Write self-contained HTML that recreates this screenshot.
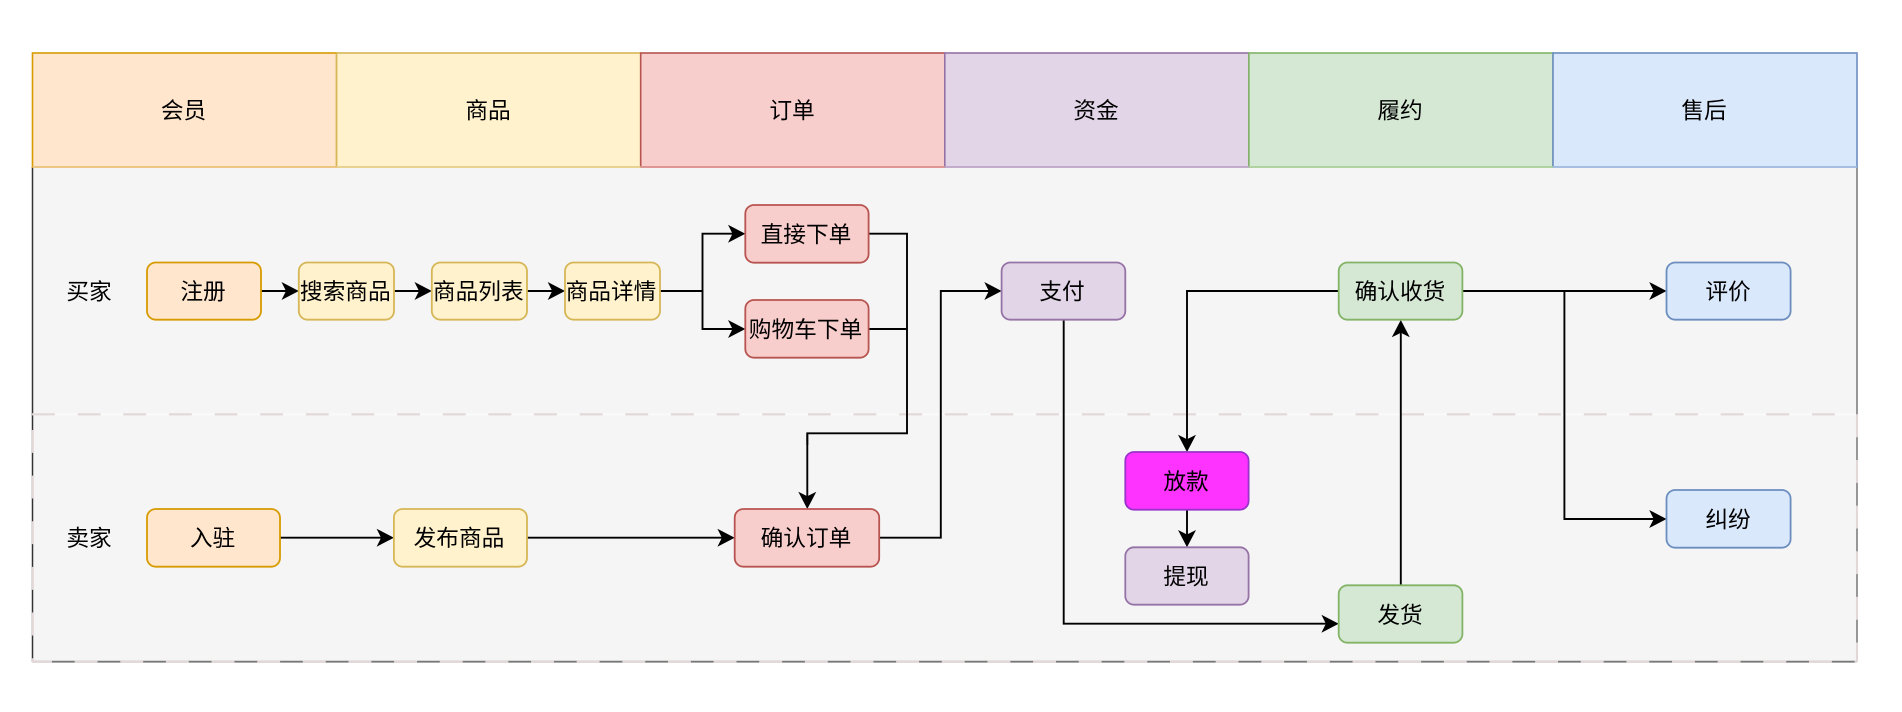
<!DOCTYPE html>
<html><head><meta charset="utf-8"><style>
html,body{margin:0;padding:0;background:#fff;width:1902px;height:712px;overflow:hidden}
svg{display:block}
text{font-family:"Liberation Sans","Noto Sans CJK SC",sans-serif;font-size:22.7px;fill:#000;text-anchor:middle}
.l{fill:none;stroke:#000;stroke-width:1.9}
.a{marker-end:url(#h)}
.d{fill:none;stroke:#e3d8d8;stroke-width:2.1;stroke-dasharray:22.9 22.74}
</style></head><body>
<svg width="1902" height="712" viewBox="0 0 1902 712" xmlns="http://www.w3.org/2000/svg">
<defs><marker id="h" markerUnits="userSpaceOnUse" markerWidth="20" markerHeight="20" refX="13" refY="9" orient="auto" overflow="visible"><path d="M17.3,9 L0,0 L4.5,9 L0,18 Z" fill="#000"/></marker></defs>
<rect width="1902" height="712" fill="#fff"/>
<rect x="32.5" y="167" width="1824.5" height="494.7" fill="#f5f5f5"/>
<path d="M32.5,167V661.7" stroke="#333" stroke-width="1.5" fill="none"/>
<path d="M1857,167V661.7" stroke="#777" stroke-width="1.5" fill="none"/>
<path d="M32.5,661.7H1857" stroke="#777" stroke-width="1.8" fill="none"/>
<path d="M33,414.3H1856" stroke="#fafafa" stroke-width="2.2" fill="none"/>
<path class="d" d="M32,414.3H1857"/>
<path class="d" d="M32.8,430V661.7"/>
<path class="d" stroke-dashoffset="3" style="stroke-dashoffset:3" d="M32,661.7H1857"/>
<path class="d" d="M1857,414.3V661.7"/>

<g stroke-width="1.6">
<rect x="32.5" y="53" width="304.1" height="114" fill="#ffe6cc" stroke="#d79b00"/>
<rect x="336.6" y="53" width="304.1" height="114" fill="#fff2cc" stroke="#d6b656"/>
<rect x="640.7" y="53" width="304.1" height="114" fill="#f8cecc" stroke="#b85450"/>
<rect x="944.8" y="53" width="304.1" height="114" fill="#e1d5e7" stroke="#9673a6"/>
<rect x="1248.9" y="53" width="304.1" height="114" fill="#d5e8d4" stroke="#82b366"/>
<rect x="1553" y="53" width="304" height="114" fill="#dae8fc" stroke="#6c8ebf"/>
</g>
<path d="M32.5,167H336.6" stroke="#efc98f" stroke-width="1.6"/>
<path d="M336.6,167H640.7" stroke="#ead494" stroke-width="1.6"/>
<path d="M640.7,167H944.8" stroke="#e19a97" stroke-width="1.6"/>
<path d="M944.8,167H1248.9" stroke="#c4afd0" stroke-width="1.6"/>
<path d="M1248.9,167H1553" stroke="#b1d4a3" stroke-width="1.6"/>
<path d="M1553,167H1857" stroke="#a9c2e5" stroke-width="1.6"/>

<!-- connectors -->
<path class="l a" d="M261,291H294.5"/>
<path class="l a" d="M394,291H427.5"/>
<path class="l a" d="M527,291H560.7"/>
<path class="l a" d="M660,291H702.5V233.7H741"/>
<path class="l a" d="M702.5,291V329H741"/>
<path class="l" d="M868.6,233.7H907V433.3H807.3V445"/>
<path class="l" d="M868.6,329H907"/>
<path class="l a" d="M807.3,433.3V504.7"/>
<path class="l a" d="M280,537.7H389.6"/>
<path class="l a" d="M527,537.7H730.4"/>
<path class="l a" d="M879.2,537.7H940.8V291H997.3"/>
<path class="l a" d="M1063.7,320V623.7H1334.4"/>
<path class="l a" d="M1338.7,291H1187V447.7"/>
<path class="l a" d="M1187,509.7V543"/>
<path class="l a" d="M1400.8,585.3V324.3"/>
<path class="l a" d="M1462.4,291H1662.2"/>
<path class="l a" d="M1564.4,291V519H1662.2"/>

<!-- nodes -->
<g stroke-width="1.8">
<rect x="147" y="262.5" width="114" height="57.2" rx="8.7" fill="#ffe6cc" stroke="#d79b00"/>
<rect x="298.8" y="262.5" width="95.2" height="57.2" rx="8.7" fill="#fff2cc" stroke="#d6b656"/>
<rect x="431.8" y="262.5" width="95.2" height="57.2" rx="8.7" fill="#fff2cc" stroke="#d6b656"/>
<rect x="565" y="262.5" width="95" height="57.2" rx="8.7" fill="#fff2cc" stroke="#d6b656"/>
<rect x="745.3" y="205" width="123.3" height="57.7" rx="8.7" fill="#f8cecc" stroke="#b85450"/>
<rect x="745.3" y="300" width="123.3" height="57.7" rx="8.7" fill="#f8cecc" stroke="#b85450"/>
<rect x="1001.6" y="262.5" width="123.7" height="57.2" rx="8.7" fill="#e1d5e7" stroke="#9673a6"/>
<rect x="1338.7" y="262.5" width="123.7" height="57.2" rx="8.7" fill="#d5e8d4" stroke="#82b366"/>
<rect x="1666.5" y="262.5" width="124.1" height="57.2" rx="8.7" fill="#dae8fc" stroke="#6c8ebf"/>
<rect x="147" y="509" width="133" height="57.7" rx="8.7" fill="#ffe6cc" stroke="#d79b00"/>
<rect x="393.9" y="509" width="133.1" height="57.7" rx="8.7" fill="#fff2cc" stroke="#d6b656"/>
<rect x="734.7" y="509" width="144.5" height="57.7" rx="8.7" fill="#f8cecc" stroke="#b85450"/>
<rect x="1125.3" y="452" width="123.3" height="57.7" rx="8.7" fill="#ff33ff" stroke="#9933cc"/>
<rect x="1125.3" y="547.3" width="123.3" height="57.4" rx="8.7" fill="#e1d5e7" stroke="#9673a6"/>
<rect x="1338.7" y="585.3" width="123.7" height="57.4" rx="8.7" fill="#d5e8d4" stroke="#82b366"/>
<rect x="1666.5" y="490" width="124.1" height="57.7" rx="8.7" fill="#dae8fc" stroke="#6c8ebf"/>
</g>

<!-- header labels -->
<text x="183.5" y="118.5">会员</text>
<text x="488" y="118.5">商品</text>
<text x="792" y="118.5">订单</text>
<text x="1096" y="118.5">资金</text>
<text x="1400" y="118.5">履约</text>
<text x="1704" y="118.5">售后</text>
<!-- lane labels -->
<text x="89" y="299.3">买家</text>
<text x="89" y="546">卖家</text>
<!-- node labels -->
<text x="203" y="299.3">注册</text>
<text x="345.3" y="299.3">搜索商品</text>
<text x="478.3" y="299.3">商品列表</text>
<text x="611" y="299.3">商品详情</text>
<text x="806" y="242.5">直接下单</text>
<text x="805.5" y="337.7">购物车下单</text>
<text x="1062" y="299.3">支付</text>
<text x="1400" y="299.3">确认收货</text>
<text x="1728" y="299.3">评价</text>
<text x="212.5" y="546">入驻</text>
<text x="459" y="546">发布商品</text>
<text x="806" y="546">确认订单</text>
<text x="1186" y="489.5">放款</text>
<text x="1186" y="584.7">提现</text>
<text x="1400" y="623">发货</text>
<text x="1728" y="527.5">纠纷</text>
</svg>
</body></html>
